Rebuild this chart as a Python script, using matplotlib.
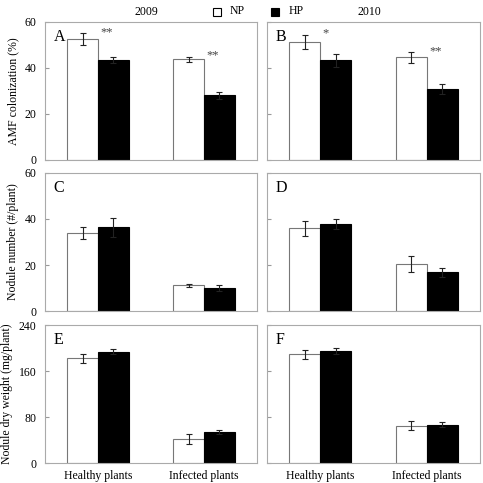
import matplotlib
matplotlib.use("Agg")
import matplotlib.pyplot as plt
from matplotlib.patches import Rectangle

plt.rcParams['font.family'] = ['Liberation Serif', 'DejaVu Serif']

groups = ["Healthy plants", "Infected plants"]

# panel A/B: AMF colonization (%)
amf09_np = [52.6, 43.6]
amf09_np_err = [2.5, 1.2]
amf09_hp = [43.2, 28.0]
amf09_hp_err = [1.3, 1.4]
amf10_np = [51.3, 44.5]
amf10_np_err = [3.0, 2.3]
amf10_hp = [43.2, 30.8]
amf10_hp_err = [2.7, 2.0]

# panel C/D: nodule number
num09_np = [33.8, 11.2]
num09_np_err = [2.6, 0.6]
num09_hp = [36.3, 10.0]
num09_hp_err = [4.0, 1.3]
num10_np = [36.0, 20.3]
num10_np_err = [3.3, 3.4]
num10_hp = [37.8, 16.8]
num10_hp_err = [2.2, 2.0]

# panel E/F: nodule dry weight
dw09_np = [182.0, 42.0]
dw09_np_err = [8.0, 8.5]
dw09_hp = [194.0, 54.0]
dw09_hp_err = [4.0, 3.5]
dw10_np = [189.0, 65.0]
dw10_np_err = [8.0, 8.0]
dw10_hp = [195.0, 67.0]
dw10_hp_err = [4.5, 4.0]

stars_amf09 = ["**", "**"]
stars_amf10 = ["*", "**"]

fig = plt.figure(figsize=(4.83, 4.83), dpi=100)

lefts = [0.093, 0.553]
widths = [0.439, 0.441]
rows = [(0.669, 0.286), (0.356, 0.286), (0.041, 0.286)]

panels = [
    ("A", amf09_np, amf09_np_err, amf09_hp, amf09_hp_err, stars_amf09),
    ("B", amf10_np, amf10_np_err, amf10_hp, amf10_hp_err, stars_amf10),
    ("C", num09_np, num09_np_err, num09_hp, num09_hp_err, None),
    ("D", num10_np, num10_np_err, num10_hp, num10_hp_err, None),
    ("E", dw09_np, dw09_np_err, dw09_hp, dw09_hp_err, None),
    ("F", dw10_np, dw10_np_err, dw10_hp, dw10_hp_err, None),
]
ylims = [60, 60, 240]
yticks = [[0, 20, 40, 60], [0, 20, 40, 60], [0, 80, 160, 240]]
ylabels = ["AMF colonization (%)", "Nodule number (#/plant)", "Nodule dry weight (mg/plant)"]

w = 0.29
xc = [0.5, 1.5]
for i, (letter, npv, npe, hpv, hpe, stars) in enumerate(panels):
    r = i // 2
    c = i % 2
    ax = fig.add_axes([lefts[c], rows[r][0], widths[c], rows[r][1]])
    x_np = [x - w / 2 for x in xc]
    x_hp = [x + w / 2 for x in xc]
    ax.bar(x_np, npv, w, color="white", edgecolor="#777777", linewidth=0.8)
    ax.bar(x_hp, hpv, w, color="black", edgecolor="black", linewidth=0.8)
    ax.errorbar(x_np, npv, yerr=npe, fmt="none", ecolor="#222222", elinewidth=0.8, capsize=2, capthick=0.8)
    ax.errorbar(x_hp, hpv, yerr=hpe, fmt="none", ecolor="#222222", elinewidth=0.8, capsize=2, capthick=0.8)
    if stars:
        for k in range(2):
            ax.text(xc[k] + 0.02, npv[k] + npe[k] + 0.5, stars[k], ha="left", va="center",
                    fontsize=9, color="#444444")
    ax.set_xlim(0, 2)
    ax.set_ylim(0, ylims[r])
    ax.set_yticks(yticks[r])
    ax.tick_params(axis="y", direction="in", length=3, color="#999999", labelsize=8.5, pad=6)
    if c == 1:
        ax.set_yticklabels([])
    else:
        ax.set_ylabel(ylabels[r], fontsize=8.5)
    if r == 2:
        ax.set_xticks(xc)
        ax.set_xticklabels(groups, fontsize=8.5)
        ax.tick_params(axis="x", length=0, pad=5)
    else:
        ax.set_xticks([])
    for s in ax.spines.values():
        s.set_color("#aaaaaa")
        s.set_linewidth(0.8)
    ax.text(0.04, 0.95, letter, transform=ax.transAxes, ha="left", va="top", fontsize=11.5)

fig.text(146 / 483, 1 - 12 / 483, "2009", ha="center", va="center", fontsize=8.5)
fig.text(369 / 483, 1 - 12 / 483, "2010", ha="center", va="center", fontsize=8.5)

# legend squares
fig.patches.append(Rectangle((213 / 483, 1 - 16 / 483), 8 / 483, 8 / 483, transform=fig.transFigure,
                             facecolor="white", edgecolor="black", linewidth=0.8))
fig.text(230 / 483, 1 - 11 / 483, "NP", ha="left", va="center", fontsize=8.5)
fig.patches.append(Rectangle((271 / 483, 1 - 16 / 483), 8 / 483, 8 / 483, transform=fig.transFigure,
                             facecolor="black", edgecolor="black", linewidth=0.8))
fig.text(289 / 483, 1 - 11 / 483, "HP", ha="left", va="center", fontsize=8.5)

fig.savefig("out.png", dpi=100)
